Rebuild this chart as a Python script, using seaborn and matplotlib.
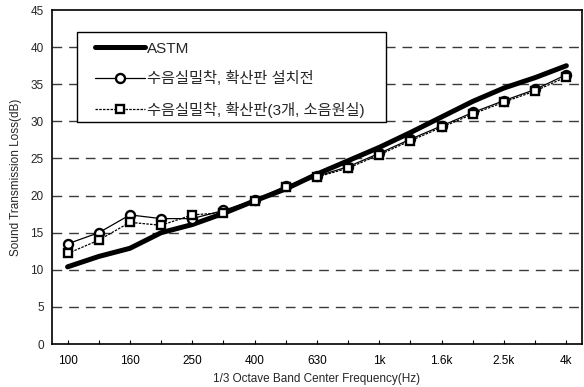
import numpy as np
import pandas as pd
import matplotlib
matplotlib.use("Agg")
import matplotlib.pyplot as plt
from matplotlib.patches import Rectangle
import seaborn as sns

# 1/3 octave band centre frequencies
bands = ["100", "125", "160", "200", "250", "315", "400", "500", "630", "800",
         "1k", "1.25k", "1.6k", "2k", "2.5k", "3.15k", "4k"]
shown_labels = ["100", "160", "250", "400", "630", "1k", "1.6k", "2.5k", "4k"]

astm = [10.4, 11.8, 12.9, 15.0, 16.1, 17.6, 19.3, 20.9, 22.9, 24.7,
        26.5, 28.5, 30.6, 32.7, 34.5, 35.9, 37.5]
before_diffuser = [13.5, 15.0, 17.4, 16.9, 16.9, 18.0, 19.4, 21.3, 22.6, 23.9,
                   25.7, 27.6, 29.4, 31.2, 32.8, 34.3, 36.3]
with_diffuser = [12.2, 14.0, 16.4, 16.0, 17.4, 17.7, 19.3, 21.1, 22.5, 23.7,
                 25.5, 27.4, 29.2, 31.0, 32.6, 34.1, 36.0]

labels = ["ASTM", "수음실밀착, 확산판 설치전", "수음실밀착, 확산판(3개, 소음원실)"]

sns.set_theme(style="white")
plt.rcParams["font.family"] = ["Liberation Sans", "Noto Sans CJK KR"]

x = np.arange(len(bands))
df = pd.DataFrame({
    "x": np.tile(x, 3),
    "TL": astm + before_diffuser + with_diffuser,
    "series": np.repeat(labels, len(bands)),
})

fig = plt.figure(figsize=(5.84, 3.87), dpi=100)
ax = fig.add_axes([0.089, 0.111, 0.9075, 0.863])

for y in range(5, 45, 5):
    ax.axhline(y, color="#3a3a3a", lw=1.0, ls=(0, (7, 5)), zorder=0)

sns.lineplot(data=df[df.series == labels[0]], x="x", y="TL", ax=ax,
             color="black", lw=3.6, label=labels[0], solid_capstyle="round",
             zorder=3)
sns.lineplot(data=df[df.series == labels[1]], x="x", y="TL", ax=ax,
             color="black", lw=0.9, marker="o", markersize=6.5,
             markerfacecolor="white", markeredgecolor="black",
             markeredgewidth=1.7, label=labels[1], zorder=4)
sns.lineplot(data=df[df.series == labels[2]], x="x", y="TL", ax=ax,
             color="black", lw=0.9, ls=(0, (2, 1)), marker="s", markersize=6,
             markerfacecolor="white", markeredgecolor="black",
             markeredgewidth=1.7, label=labels[2], zorder=4)

ax.set_xlim(-0.5, len(bands) - 0.5)
ax.set_ylim(0, 45)
ax.set_xticks(x)
ax.set_xticklabels([b if b in shown_labels else "" for b in bands], fontsize=8.5)
ax.set_yticks(range(0, 50, 5))
ax.tick_params(axis="y", labelsize=8.5, length=0, pad=6)
ax.tick_params(axis="x", direction="in", length=3, width=0.8, pad=8,
               bottom=True, colors="black")
for sp in ax.spines.values():
    sp.set_color("black")
    sp.set_linewidth(1.2)

ax.set_xlabel("1/3 Octave Band Center Frequency(Hz)", fontsize=8.5, labelpad=4)
ax.set_ylabel("Sound Transmission Loss(dB)", fontsize=8.5, labelpad=6)

# legend box drawn as a white panel so it hides the grid behind it
ax.add_patch(Rectangle((0.047, 0.665), 0.583, 0.27, transform=ax.transAxes,
                       facecolor="white", edgecolor="black", lw=1.0, zorder=5))
leg = ax.legend(loc="upper left", bbox_to_anchor=(0.081, 0.905), frameon=False,
                fontsize=11, handlelength=3.3, handletextpad=0.1, borderpad=0,
                labelspacing=1.0, borderaxespad=0)
leg.set_zorder(6)

fig.savefig("out.png", dpi=100)
